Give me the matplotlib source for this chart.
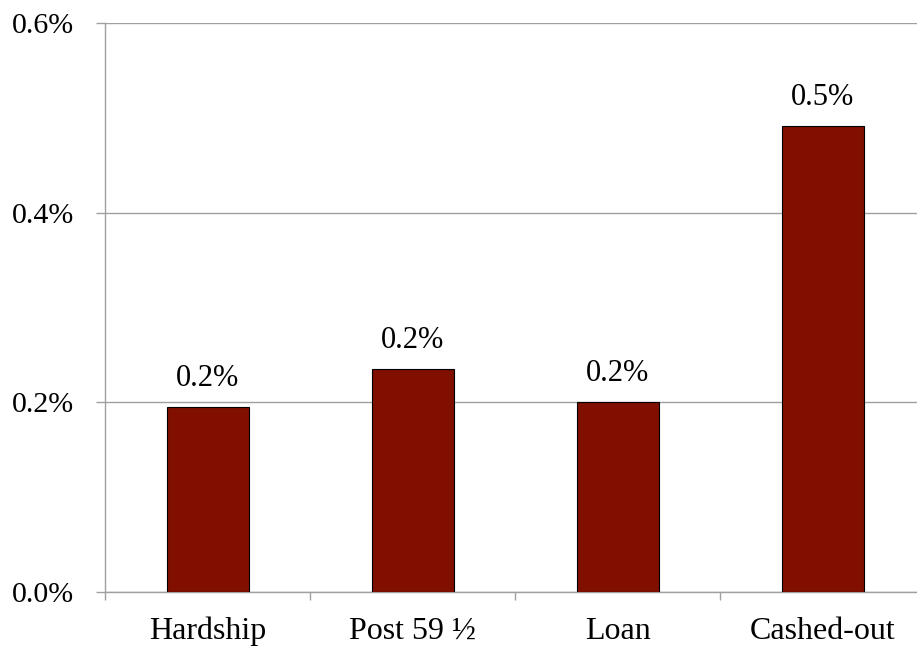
import matplotlib
matplotlib.use("Agg")
import matplotlib.pyplot as plt
from matplotlib.ticker import FuncFormatter, FixedLocator

# Share of participants by withdrawal type (percent)
categories = ["Hardship", "Post 59 \u00bd", "Loan", "Cashed-out"]
values = [0.195, 0.235, 0.200, 0.491]
y_ticks = [0.0, 0.2, 0.4, 0.6]

bar_color = "#800f00"
axis_gray = "#a0a0a0"

plt.rcParams["font.family"] = ["Liberation Serif", "DejaVu Serif"]
plt.rcParams["font.size"] = 21.5

fig = plt.figure(figsize=(9.17, 6.47), dpi=100)
ax = fig.add_axes([105 / 917, 55 / 647, 820 / 917, 569 / 647])

x = list(range(len(categories)))
bars = ax.bar(x, values, width=0.4, color=bar_color, edgecolor="black",
              linewidth=0.8, zorder=3)

# Value labels above each bar
for rect, v in zip(bars, values):
    ax.annotate(f"{v:.1f}%", (rect.get_x() + rect.get_width() / 2, v),
                xytext=(0, 10), textcoords="offset points",
                ha="center", va="bottom", fontsize=22)

ax.set_xlim(-0.5, len(categories) - 0.5)
ax.set_ylim(0, 0.6)
ax.set_yticks(y_ticks)
ax.yaxis.set_major_formatter(FuncFormatter(lambda v, _: f"{v:.1f}%"))
ax.yaxis.grid(True, color=axis_gray, linewidth=1, zorder=0)
ax.tick_params(axis="y", length=6.5, width=1, color=axis_gray, pad=16)

# Category labels centered, tick marks between categories
ax.set_xticks(x)
ax.set_xticklabels(categories, fontsize=23)
ax.tick_params(axis="x", which="major", length=0, pad=18)
ax.xaxis.set_minor_locator(FixedLocator([i - 0.5 for i in range(len(categories) + 1)]))
ax.tick_params(axis="x", which="minor", length=6, width=1, color=axis_gray)

for side in ["top", "right"]:
    ax.spines[side].set_visible(False)
for side in ["left", "bottom"]:
    ax.spines[side].set_color(axis_gray)
    ax.spines[side].set_linewidth(1)

fig.savefig("out.png", dpi=100)
